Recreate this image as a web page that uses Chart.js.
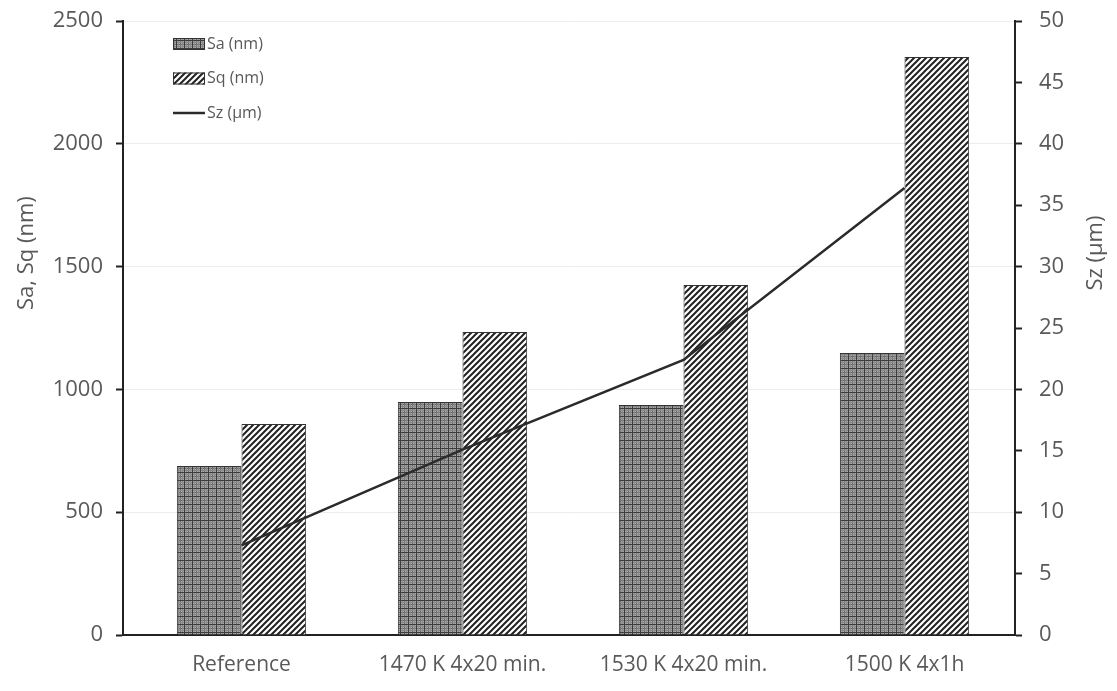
<!DOCTYPE html>
<html>
<head>
<meta charset="utf-8">
<script src="https://cdn.jsdelivr.net/npm/chart.js@4.4.1/dist/chart.umd.min.js"></script>
<style>
  html, body { margin: 0; padding: 0; background: #fff; }
  #wrap { width: 1117px; height: 691px; }
</style>
</head>
<body>
<div id="wrap"><canvas id="chart"></canvas></div>
<script>
// Chart data
const categories = ['Reference', '1470 K 4x20 min.', '1530 K 4x20 min.', '1500 K 4x1h'];
const saValues = [688, 949, 936, 1148];
const sqValues = [859, 1234, 1425, 2353];
const szValues = [7.3, 15.1, 22.4, 36.4];

const leftTicks = [0, 500, 1000, 1500, 2000, 2500];
const rightTicks = [0, 5, 10, 15, 20, 25, 30, 35, 40, 45, 50];
const legendOrder = ['Sa (nm)', 'Sq (nm)', 'Sz (µm)'];

const textGray = '#595959';
const axisBlack = '#222';

// Fill patterns for the bars
function makePattern(size, draw) {
  const c = document.createElement('canvas');
  c.width = size; c.height = size;
  const ctx = c.getContext('2d');
  draw(ctx, size);
  return ctx.createPattern(c, 'repeat');
}

// checked / plaid pattern for Sa
const saPattern = makePattern(8, (ctx, s) => {
  ctx.fillStyle = '#a8a8a8';
  ctx.fillRect(0, 0, s, s);
  ctx.fillStyle = '#6e6e6e';
  ctx.fillRect(4, 0, 1, s);
  ctx.fillRect(0, 4, s, 1);
  ctx.fillStyle = '#8a8a8a';
  ctx.fillRect(2, 0, 1, s);
  ctx.fillRect(6, 0, 1, s);
  ctx.fillRect(0, 2, s, 1);
  ctx.fillRect(0, 6, s, 1);
  ctx.fillStyle = '#3c3c3c';
  ctx.fillRect(0, 0, 1, s);
  ctx.fillRect(0, 0, s, 1);
});

// diagonal hatch for Sq
const sqPattern = makePattern(6, (ctx, s) => {
  ctx.fillStyle = '#fff';
  ctx.fillRect(0, 0, s, s);
  ctx.strokeStyle = '#222';
  ctx.lineWidth = 2;
  ctx.beginPath();
  ctx.moveTo(-1, s + 1); ctx.lineTo(s + 1, -1);
  ctx.moveTo(-1, 1); ctx.lineTo(1, -1);
  ctx.moveTo(s - 1, s + 1); ctx.lineTo(s + 1, s - 1);
  ctx.stroke();
});

// the original leaves a small gap between the left axis and the first category
const shiftCategories = {
  id: 'shiftCategories',
  afterLayout(chart) {
    const x = chart.scales.x;
    x._startPixel += 8;
    x._length -= 8;
  }
};

// fixed box for the vertical axes
function fitVertical(width) {
  return scale => {
    scale.width = width;
    scale.paddingTop = 21;
    scale.paddingBottom = 10;
  };
}

// Legend + axis titles drawn by hand to keep the original placement
const extras = {
  id: 'extras',
  afterDraw(chart) {
    const ctx = chart.ctx;
    const area = chart.chartArea;
    ctx.save();

    // legend
    const lx = area.left + 50;
    let ly = area.top + 23;
    ctx.font = '16px "Open Sans"';
    ctx.textBaseline = 'middle';
    legendOrder.forEach(name => {
      const ds = chart.data.datasets.find(d => d.label === name);
      if (ds.type === 'line') {
        ctx.strokeStyle = ds.borderColor;
        ctx.lineWidth = ds.borderWidth;
        ctx.beginPath();
        ctx.moveTo(lx, ly); ctx.lineTo(lx + 32, ly);
        ctx.stroke();
      } else {
        ctx.fillStyle = ds.backgroundColor;
        ctx.fillRect(lx, ly - 6, 32, 12);
        ctx.strokeStyle = ds.borderColor;
        ctx.lineWidth = 1;
        ctx.strokeRect(lx + 0.5, ly - 5.5, 31, 11);
      }
      ctx.fillStyle = textGray;
      ctx.textAlign = 'left';
      ctx.fillText(ds.label, lx + 34, ly);
      ly += 34.5;
    });

    // axis titles
    ctx.font = '22px "Open Sans"';
    ctx.fillStyle = textGray;
    ctx.textAlign = 'center';
    const ty = area.top + (area.bottom - area.top) * 0.378;
    ctx.translate(27, ty);
    ctx.rotate(-Math.PI / 2);
    ctx.fillText('Sa, Sq (nm)', 0, 0);
    ctx.setTransform(1, 0, 0, 1, 0, 0);
    ctx.translate(1096, ty);
    ctx.rotate(-Math.PI / 2);
    ctx.fillText('Sz (μm)', 0, 0);
    ctx.restore();
  }
};

new Chart(document.getElementById('chart'), {
  type: 'bar',
  data: {
    labels: categories,
    datasets: [
      {
        type: 'line',
        label: 'Sz (µm)',
        data: szValues,
        yAxisID: 'y2',
        borderColor: '#2b2b2b',
        borderWidth: 2.5,
        pointRadius: 0,
        tension: 0,
        order: 0
      },
      {
        label: 'Sa (nm)',
        data: saValues,
        backgroundColor: saPattern,
        borderColor: '#333',
        borderWidth: 1,
        categoryPercentage: 0.585,
        barPercentage: 1.0,
        order: 1
      },
      {
        label: 'Sq (nm)',
        data: sqValues,
        backgroundColor: sqPattern,
        borderColor: '#333',
        borderWidth: 1,
        categoryPercentage: 0.585,
        barPercentage: 1.0,
        order: 1
      }
    ]
  },
  options: {
    responsive: true,
    maintainAspectRatio: false,
    animation: false,
    layout: { padding: 0 },
    scales: {
      x: {
        grid: { display: false },
        border: { display: true, color: axisBlack, width: 2 },
        ticks: {
          color: textGray,
          font: { family: 'Open Sans', size: 21 },
          maxRotation: 0,
          padding: 9
        },
        afterFit(scale) { scale.height = 691 - 635; }
      },
      y: {
        position: 'left',
        min: 0,
        max: 2500,
        afterBuildTicks(scale) { scale.ticks = leftTicks.map(v => ({ value: v })); },
        grid: { color: '#ececec', lineWidth: 1, tickColor: axisBlack, tickLength: 7, tickWidth: 2 },
        border: { color: axisBlack, width: 2 },
        ticks: {
          color: textGray,
          font: { family: 'Open Sans', size: 22 },
          padding: 13,
          callback: v => String(v)
        },
        afterFit: fitVertical(123)
      },
      y2: {
        position: 'right',
        min: 0,
        max: 50,
        afterBuildTicks(scale) { scale.ticks = rightTicks.map(v => ({ value: v })); },
        grid: { drawOnChartArea: false, tickColor: axisBlack, tickLength: 7, tickWidth: 2 },
        border: { color: axisBlack, width: 2 },
        ticks: {
          color: textGray,
          font: { family: 'Open Sans', size: 22 },
          padding: 17,
          callback: v => String(v)
        },
        afterFit: fitVertical(1117 - 1015)
      }
    },
    plugins: {
      legend: { display: false },
      tooltip: { enabled: false }
    }
  },
  plugins: [shiftCategories, extras]
});
</script>
</body>
</html>
